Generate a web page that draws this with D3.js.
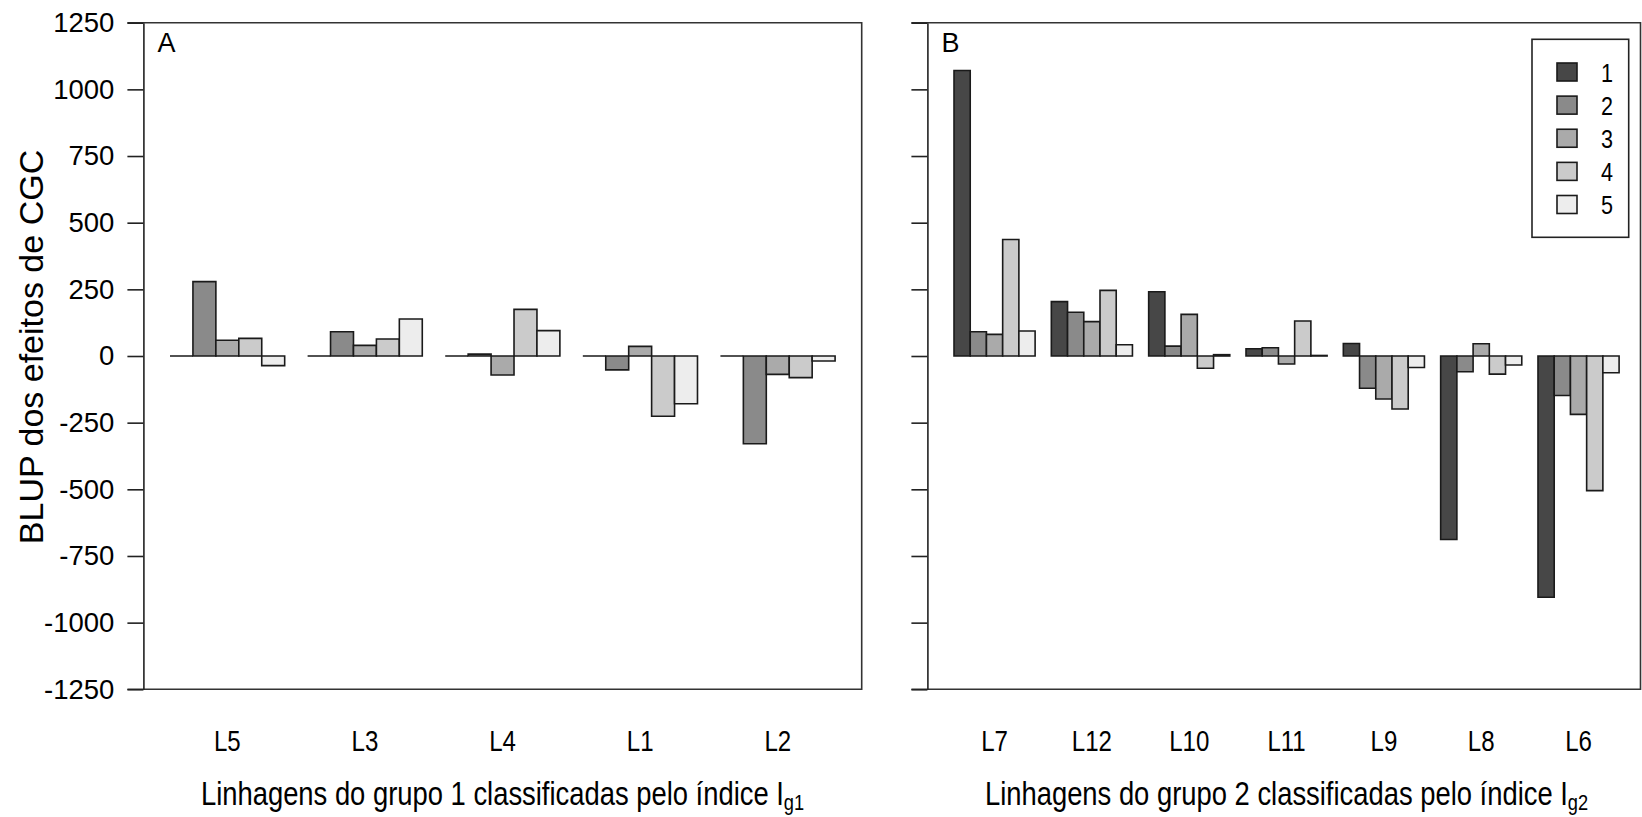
<!DOCTYPE html>
<html>
<head>
<meta charset="utf-8">
<script src="https://cdn.jsdelivr.net/npm/d3@7"></script>
<style>
  body { margin: 0; background: #fff; }
  text { font-family: "Liberation Sans", Arial, sans-serif; fill: #000; }
</style>
</head>
<body>
<script>
var width = 1642,
    height = 817;

// series (testers) and their grey fills
var series = ["1", "2", "3", "4", "5"];
var fills = ["#474747", "#8a8a8a", "#aaaaaa", "#cbcbcb", "#ededed"];

// group 1 lines, ranked by Ig1
var linesA = ["L5", "L3", "L4", "L1", "L2"];
var valuesA = [
  [0, 279, 59, 66, -36],
  [0, 91, 40, 64, 139],
  [0, 7, -71, 175, 95],
  [0, -52, 36, -226, -179],
  [0, -329, -69, -81, -19]
];

// group 2 lines, ranked by Ig2
var linesB = ["L7", "L12", "L10", "L11", "L9", "L8", "L6"];
var valuesB = [
  [1071, 91, 81, 437, 94],
  [204, 164, 129, 246, 42],
  [241, 37, 156, -46, 5],
  [27, 31, -30, 131, 2],
  [47, -121, -161, -199, -43],
  [-688, -59, 46, -68, -34],
  [-905, -148, -219, -505, -63]
];

var yTicks = d3.range(-1250, 1251, 250);

var plotTop = 22.7, plotBottom = 689.3;
var squeeze = 0.83; // no narrow font installed, so squeeze horizontally

var svg = d3.select("body").append("svg")
    .attr("width", width)
    .attr("height", height);

var y = d3.scaleLinear().domain([-1250, 1250]).range([plotBottom, plotTop]);

// condensed text helper
function narrow(parent, x, yy, size, anchor) {
  return parent.append("g")
    .attr("transform", "translate(" + x + "," + yy + ") scale(" + squeeze + ",1)")
    .append("text")
    .attr("text-anchor", anchor || "start")
    .style("font-size", size + "px");
}

function drawPanel(opts) {
  var G = opts.lines.length;
  var span = 6 * G - 1;
  // barplot style unit scale: bars from 1 to 6G, 4% padding each side
  var x = d3.scaleLinear()
      .domain([1 - 0.04 * span, 6 * G + 0.04 * span])
      .range([opts.x0, opts.x1]);
  var right = Math.min(opts.x1, width - 1.5);

  var g = svg.append("g");

  // frame: top, bottom, right (top/bottom run out to the tick ends)
  g.append("path")
    .attr("d", "M" + (opts.x0 - 16) + "," + plotTop + "H" + right + "V" + plotBottom + "H" + (opts.x0 - 16))
    .attr("fill", "none")
    .attr("stroke", "#333")
    .attr("stroke-width", 1.6);

  // y axis
  var axis = d3.axisLeft(y)
    .tickValues(yTicks)
    .tickSize(16)
    .tickSizeOuter(0)
    .tickPadding(13)
    .tickFormat(opts.labels ? function(d) { return String(d); } : "");
  var ax = g.append("g")
    .attr("transform", "translate(" + opts.x0 + ",0)")
    .call(axis);
  ax.select(".domain").attr("stroke", "#222").attr("stroke-width", 1.6);
  ax.selectAll(".tick line").attr("stroke", "#222").attr("stroke-width", 1.6);
  ax.selectAll(".tick text")
    .style("font-family", "'Liberation Sans', Arial, sans-serif")
    .style("font-size", "27.5px")
    .attr("fill", "#000");

  // bars (paths so zero-height bars still show a line)
  var bars = [];
  opts.values.forEach(function(row, gi) {
    row.forEach(function(v, si) {
      bars.push({g: gi, s: si, v: v});
    });
  });
  g.append("g").selectAll("path")
    .data(bars)
    .enter().append("path")
    .attr("d", function(d) {
      var l = x(1 + d.g * 6 + d.s), r = x(2 + d.g * 6 + d.s);
      return "M" + l + "," + y(0) + "H" + r + "V" + y(d.v) + "H" + l + "Z";
    })
    .attr("fill", function(d) { return fills[d.s]; })
    .attr("stroke", "#1a1a1a")
    .attr("stroke-width", 1.6);

  // group labels
  opts.lines.forEach(function(name, i) {
    narrow(g, x(1 + i * 6 + 2.5), 751, 29, "middle").text(name);
  });

  // panel letter
  g.append("text")
    .attr("x", opts.x0 + 14)
    .attr("y", 52)
    .style("font-size", "27px")
    .text(opts.letter);

  // x title with subscript
  var t = narrow(g, (opts.x0 + opts.x1) / 2, 805, 33, "middle");
  t.append("tspan").text(opts.title);
  t.append("tspan").attr("dy", 5).style("font-size", "22px").text(opts.sub);

  return x;
}

drawPanel({lines: linesA, values: valuesA, x0: 143.4, x1: 861.7, labels: true, letter: "A",
  title: "Linhagens do grupo 1 classificadas pelo índice I", sub: "g1"});
drawPanel({lines: linesB, values: valuesB, x0: 927.4, x1: 1645.7, labels: false, letter: "B",
  title: "Linhagens do grupo 2 classificadas pelo índice I", sub: "g2"});

// y title
svg.append("text")
  .attr("transform", "translate(43,347) rotate(-90)")
  .attr("text-anchor", "middle")
  .style("font-size", "34px")
  .text("BLUP dos efeitos de CGC");

// legend
var legend = svg.append("g");
legend.append("rect")
  .attr("x", 1532).attr("y", 39.3)
  .attr("width", 96.7).attr("height", 198)
  .attr("fill", "#fff")
  .attr("stroke", "#222")
  .attr("stroke-width", 1.6);

var ly = d3.scalePoint().domain(series).range([72, 204.5]);
series.forEach(function(s, i) {
  legend.append("rect")
    .attr("x", 1557).attr("y", ly(s) - 9)
    .attr("width", 20).attr("height", 18)
    .attr("fill", fills[i])
    .attr("stroke", "#1a1a1a")
    .attr("stroke-width", 1.6);
  narrow(legend, 1601, ly(s) + 9.5, 26).text(s);
});
</script>
</body>
</html>
